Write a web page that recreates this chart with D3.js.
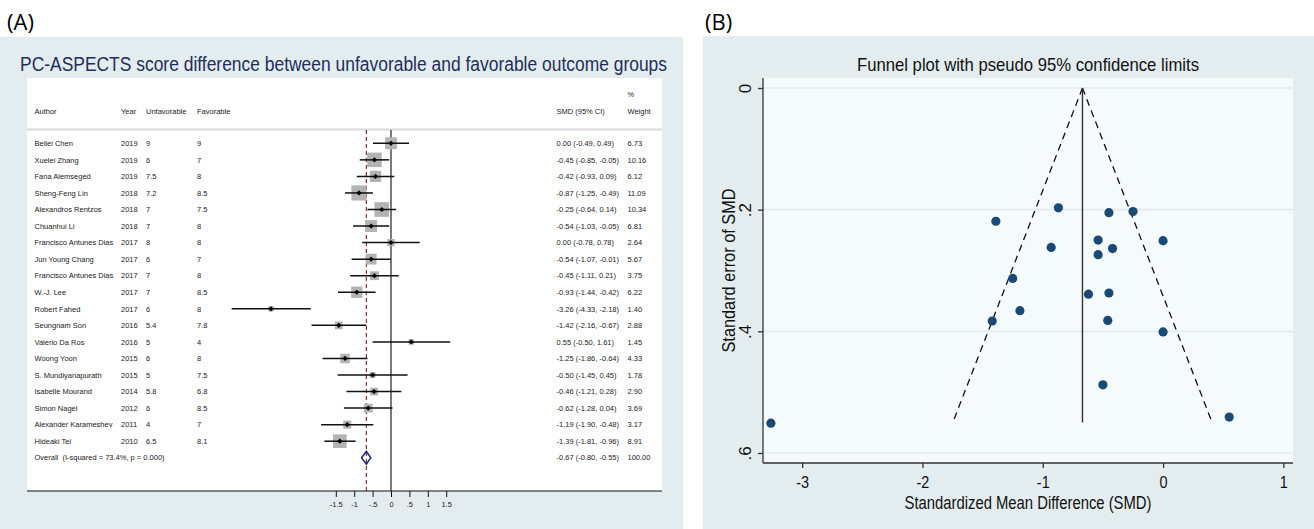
<!DOCTYPE html>
<html><head><meta charset="utf-8">
<script src="https://cdn.jsdelivr.net/npm/d3@7"></script>
<style>body{margin:0;background:#fff;}svg{display:block;font-family:"Liberation Sans",Arial,sans-serif;}</style>
</head><body>
<svg id="c" width="1314" height="529"></svg>
<script>
// ---------- DATA ----------
const authors = ["Beilei Chen","Xuelei Zhang","Fana Alemseged","Sheng-Feng Lin","Alexandros Rentzos","Chuanhui Li","Francisco Antunes Dias","Jun Young Chang","Francisco Antunes Dias","W.-J. Lee","Robert Fahed","Seungnam Son","Valerio Da Ros","Woong Yoon","S. Mundiyanapurath","Isabelle Mourand","Simon Nagel","Alexander Karameshev","Hideaki Tei"];
const years = ["2019","2019","2019","2018","2018","2018","2017","2017","2017","2017","2017","2016","2016","2015","2015","2014","2012","2011","2010"];
const unfavorable = ["9","6","7.5","7.2","7","7","8","6","7","7","6","5.4","5","6","5","5.8","6","4","6.5"];
const favorable = ["9","7","8","8.5","7.5","8","8","7","8","8.5","8","7.8","4","8","7.5","6.8","8.5","7","8.1"];
const smd = [0.00,-0.45,-0.42,-0.87,-0.25,-0.54,0.00,-0.54,-0.45,-0.93,-3.26,-1.42,0.55,-1.25,-0.50,-0.46,-0.62,-1.19,-1.39];
const ciLow = [-0.49,-0.85,-0.93,-1.25,-0.64,-1.03,-0.78,-1.07,-1.11,-1.44,-4.33,-2.16,-0.50,-1.86,-1.45,-1.21,-1.28,-1.90,-1.81];
const ciHigh = [0.49,-0.05,0.09,-0.49,0.14,-0.05,0.78,-0.01,0.21,-0.42,-2.18,-0.67,1.61,-0.64,0.45,0.28,0.04,-0.48,-0.96];
const weights = [6.73,10.16,6.12,11.09,10.34,6.81,2.64,5.67,3.75,6.22,1.40,2.88,1.45,4.33,1.78,2.90,3.69,3.17,8.91];
const overall = {label:"Overall  (I-squared = 73.4%, p = 0.000)", smd:-0.67, lo:-0.80, hi:-0.55, weight:"100.00"};
const forestTicks = [-1.5,-1,-0.5,0,0.5,1,1.5];
const forestTickLabels = ["-1.5","-1","-.5","0",".5","1","1.5"];
// funnel plot: standard errors
const seValues = [0.251,0.205,0.264,0.197,0.203,0.25,0.401,0.274,0.337,0.262,0.551,0.383,0.541,0.313,0.488,0.382,0.339,0.366,0.219];
const funnelSeMax = 0.55;
const funnelXTicks = [-3,-2,-1,0,1];
const funnelXTickLabels = ["-3","-2","-1","0","1"];
const funnelYTicks = [0,0.2,0.4,0.6];
const funnelYTickLabels = ["0",".2",".4",".6"];

// ---------- SETUP ----------
const svg = d3.select("#c");
const fmt2 = v => v.toFixed(2);
const panelBg = "#e3edf0";
function fit(sel, w){
  const len = sel.node().getComputedTextLength();
  if (len > w) sel.attr("textLength", w).attr("lengthAdjust","spacingAndGlyphs");
  return sel;
}

svg.append("text").attr("x",7).attr("y",30).attr("font-size",22).attr("font-family","Open Sans, Liberation Sans, sans-serif").text("(A)");
svg.append("text").attr("x",705).attr("y",30).attr("font-size",22).attr("font-family","Open Sans, Liberation Sans, sans-serif").text("(B)");

// ================= PANEL A: FOREST =================
svg.append("rect").attr("x",0).attr("y",37).attr("width",683).attr("height",492).attr("fill",panelBg);
fit(svg.append("text").attr("x",20).attr("y",71).attr("font-size",19.6).attr("fill","#1f2d5c")
  .text("PC-ASPECTS score difference between unfavorable and favorable outcome groups"), 647);
svg.append("rect").attr("x",27).attr("y",78).attr("width",635).attr("height",413).attr("fill","#fff");

const fx = d3.scaleLinear().domain([-4.5,1.5]).range([391-4.5*36.8, 391+1.5*36.8]);
const rowY = d3.scaleLinear().domain([0,1]).range([143.3,159.85]);
const fs = 7.5;
const hdr = svg.append("g").attr("font-size",fs).attr("fill","#222");
hdr.append("text").attr("x",34.5).attr("y",113.5).text("Author");
hdr.append("text").attr("x",121).attr("y",113.5).text("Year");
hdr.append("text").attr("x",146).attr("y",113.5).text("Unfavorable");
hdr.append("text").attr("x",197).attr("y",113.5).text("Favorable");
hdr.append("text").attr("x",556.5).attr("y",113.5).text("SMD (95% CI)");
hdr.append("text").attr("x",627.5).attr("y",96.5).text("%");
hdr.append("text").attr("x",627.5).attr("y",113.5).text("Weight");
svg.append("line").attr("x1",27).attr("x2",662).attr("y1",129.5).attr("y2",129.5).attr("stroke","#d9d9d9").attr("stroke-width",2);

const axisY = 491;
svg.append("line").attr("x1",fx(0)).attr("x2",fx(0)).attr("y1",130).attr("y2",axisY).attr("stroke","#222").attr("stroke-width",1.2);
svg.append("line").attr("x1",fx(overall.smd)).attr("x2",fx(overall.smd)).attr("y1",130).attr("y2",axisY)
  .attr("stroke","#9b2a2a").attr("stroke-width",1.2).attr("stroke-dasharray","4,3");

const rows = svg.append("g");
authors.forEach((a,i)=>{
  const y = rowY(i);
  const g = rows.append("g").attr("font-size",fs).attr("fill","#222");
  g.append("text").attr("x",34.5).attr("y",y+2.7).text(a);
  g.append("text").attr("x",121).attr("y",y+2.7).text(years[i]);
  g.append("text").attr("x",146).attr("y",y+2.7).text(unfavorable[i]);
  g.append("text").attr("x",197).attr("y",y+2.7).text(favorable[i]);
  g.append("text").attr("x",556.5).attr("y",y+2.7).text(`${fmt2(smd[i])} (${fmt2(ciLow[i])}, ${fmt2(ciHigh[i])})`);
  g.append("text").attr("x",627.5).attr("y",y+2.7).text(fmt2(weights[i]));
  const s = 4.55*Math.sqrt(weights[i]);
  rows.append("rect").attr("x",fx(smd[i])-s/2).attr("y",y-s/2).attr("width",s).attr("height",s).attr("fill","#b3b3b3");
  rows.append("line").attr("x1",fx(ciLow[i])).attr("x2",fx(ciHigh[i])).attr("y1",y).attr("y2",y).attr("stroke","#111").attr("stroke-width",1.5);
  const cx = fx(smd[i]), d=2.6;
  rows.append("path").attr("d",`M${cx-d},${y}L${cx},${y-d}L${cx+d},${y}L${cx},${y+d}Z`).attr("fill","#000");
});
const oy = rowY(authors.length);
svg.append("text").attr("x",34.5).attr("y",oy+2.7).attr("font-size",fs).attr("fill","#222").attr("xml:space","preserve").text(overall.label);
svg.append("text").attr("x",556.5).attr("y",oy+2.7).attr("font-size",fs).attr("fill","#222")
  .text(`${fmt2(overall.smd)} (${fmt2(overall.lo)}, ${fmt2(overall.hi)})`);
svg.append("text").attr("x",627.5).attr("y",oy+2.7).attr("font-size",fs).attr("fill","#222").text(overall.weight);
svg.append("path").attr("d",`M${fx(overall.lo)},${oy}L${fx(overall.smd)},${oy-6.5}L${fx(overall.hi)},${oy}L${fx(overall.smd)},${oy+6.5}Z`)
  .attr("fill","none").attr("stroke","#1c2580").attr("stroke-width",1.5);

svg.append("line").attr("x1",27).attr("x2",662).attr("y1",axisY).attr("y2",axisY).attr("stroke","#111").attr("stroke-width",1.2);
const fAxis = d3.axisBottom(fx).tickValues(forestTicks).tickFormat((d,i)=>forestTickLabels[i]).tickSize(6).tickSizeOuter(0);
const fa = svg.append("g").attr("transform",`translate(0,${axisY})`).call(fAxis);
fa.select(".domain").remove();
fa.selectAll("text").attr("font-size",fs).attr("font-family","Liberation Sans, Arial, sans-serif").attr("fill","#222").attr("dy","0.9em");
fa.selectAll("line").attr("stroke","#111");

// ================= PANEL B: FUNNEL =================
svg.append("rect").attr("x",703).attr("y",36).attr("width",611).attr("height",493).attr("fill",panelBg);
const px0=763, px1=1293, py0=78, py1=463;
svg.append("rect").attr("x",px0).attr("y",py0).attr("width",px1-px0).attr("height",py1-py0).attr("fill","#f5fafc");
const ux = d3.scaleLinear().domain([-3.3255,1.08]).range([px0,px1]);
const uy = d3.scaleLinear().domain([-0.01644,0.61644]).range([py0,py1]);

svg.append("g").selectAll("line").data(funnelYTicks).join("line")
  .attr("x1",px0).attr("x2",px1).attr("y1",d=>uy(d)).attr("y2",d=>uy(d))
  .attr("stroke","#e2ecef").attr("stroke-width",1.6);

fit(svg.append("text").attr("x",(px0+px1)/2).attr("y",71).attr("text-anchor","middle").attr("font-size",18.5).attr("fill","#111")
  .text("Funnel plot with pseudo 95% confidence limits"), 342);

const pooled = overall.smd;
const fl = svg.append("g");
fl.append("line").attr("x1",ux(pooled)).attr("y1",uy(0)).attr("x2",ux(pooled-1.96*funnelSeMax)).attr("y2",uy(funnelSeMax))
  .attr("stroke","#111").attr("stroke-width",1.3).attr("stroke-dasharray","7,5");
fl.append("line").attr("x1",ux(pooled)).attr("y1",uy(0)).attr("x2",ux(pooled+1.96*funnelSeMax)).attr("y2",uy(funnelSeMax))
  .attr("stroke","#111").attr("stroke-width",1.3).attr("stroke-dasharray","7,5");
fl.append("line").attr("x1",ux(pooled)).attr("y1",uy(0)).attr("x2",ux(pooled)).attr("y2",uy(funnelSeMax))
  .attr("stroke","#333").attr("stroke-width",1.4);

svg.append("g").selectAll("circle").data(smd).join("circle")
  .attr("cx",d=>ux(d)).attr("cy",(d,i)=>uy(seValues[i])).attr("r",4.6).attr("fill","#1a4a74");

const xAx = d3.axisBottom(ux).tickValues(funnelXTicks).tickFormat((d,i)=>funnelXTickLabels[i]).tickSize(5).tickSizeOuter(0);
const xg = svg.append("g").attr("transform",`translate(0,${py1})`).call(xAx);
xg.select(".domain").attr("d",`M${px0},0H${px1}`).attr("stroke","#333").attr("stroke-width",1.3);
xg.selectAll(".tick line").attr("stroke","#333").attr("stroke-width",1.3);
xg.selectAll("text").attr("font-size",17).attr("font-family","Liberation Sans, Arial, sans-serif").attr("fill","#111").attr("dy","1.0em")
  .attr("transform","scale(0.85,1)").attr("x",0);

const yAx = d3.axisLeft(uy).tickValues(funnelYTicks).tickFormat((d,i)=>funnelYTickLabels[i]).tickSize(5).tickSizeOuter(0);
const yg = svg.append("g").attr("transform",`translate(${px0},0)`).call(yAx);
yg.select(".domain").attr("d",`M0,${py0}V${py1}`).attr("stroke","#333").attr("stroke-width",1.3);
yg.selectAll(".tick line").attr("stroke","#333").attr("stroke-width",1.3);
yg.selectAll("text").attr("font-size",17).attr("font-family","Liberation Sans, Arial, sans-serif").attr("fill","#111")
  .attr("x",null).attr("dy",null).attr("text-anchor","middle").attr("transform","translate(-18,0) rotate(-90)").attr("y",0).attr("dy","0.35em");

fit(svg.append("text").attr("x",(px0+px1)/2).attr("y",509).attr("text-anchor","middle").attr("font-size",17.5).attr("fill","#111")
  .text("Standardized Mean Difference (SMD)"), 247);
fit(svg.append("text").attr("transform",`translate(735,${(py0+py1)/2}) rotate(-90)`).attr("text-anchor","middle").attr("font-size",17.5).attr("fill","#111")
  .text("Standard error of SMD"), 164);
</script>
</body></html>
